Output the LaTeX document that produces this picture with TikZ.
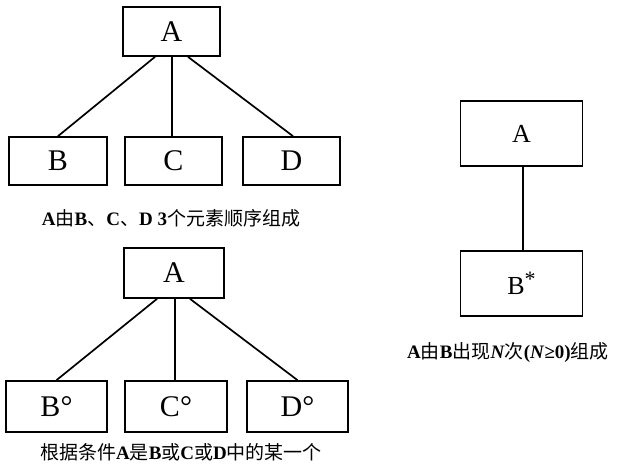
\documentclass[tikz,border=0pt]{standalone}
\usepackage{fontspec}
\setmainfont{Liberation Serif}
\newfontfamily\cjkfont{Noto Sans CJK SC}
\newcommand{\zh}[1]{{\cjkfont\mdseries #1}}
\usetikzlibrary{positioning}
\tikzset{
    treebox/.style={rectangle, draw=black, line width=1.7pt, minimum width=97pt, minimum height=49pt, inner sep=0pt, font=\fontsize{30}{30}\selectfont},
    widebox/.style={rectangle, draw=black, line width=1.7pt, minimum width=122pt, minimum height=65pt, inner sep=0pt, font=\fontsize{26}{26}\selectfont},
    link/.style={line width=1.7pt, black},
    caption/.style={font=\fontsize{19}{19}\selectfont\bfseries, inner sep=0pt}
}
\begin{document}
\begin{tikzpicture}[x=1pt, y=-1pt]
        \useasboundingbox (0,0) rectangle (621,467);

        % Sequence: A made of B, C, D
        \node[treebox] (a1) at (171.5, 31.5) {A};
        \node[treebox, minimum width=98pt, minimum height=48pt] (b1) at (58, 161) {B};
        \node[treebox, minimum height=48pt] (c1) at (173.5, 161) {C};
        \node[treebox, minimum height=48pt] (d1) at (291.5, 161) {D};
        \draw[link] ([xshift=-16.5pt]a1.south) -- (b1.north);
        \draw[link] ([xshift=0.5pt]a1.south) -- ([xshift=0.5pt]a1.south |- c1.north);
        \draw[link] ([xshift=16.5pt]a1.south) -- ([xshift=1.5pt]d1.north);
        \node[caption] (cap1) at (171, 218) {A\zh{由}B\zh{、}C\zh{、}D 3\zh{个元素顺序组成}};

        % Selection: A is one of B, C, D
        \node[treebox, minimum width=100pt, minimum height=50pt] (a2) at (174, 273) {A};
        \node[treebox, minimum width=101pt, minimum height=51pt] (b2) at (56.5, 406.5) {B°};
        \node[treebox, minimum width=102pt, minimum height=51pt] (c2) at (176, 406.5) {C°};
        \node[treebox, minimum width=101pt, minimum height=51pt] (d2) at (297.5, 406.5) {D°};
        \draw[link] ([xshift=-17pt]a2.south) -- (b2.north);
        \draw[link] ([xshift=1pt]a2.south) -- ([xshift=1pt]a2.south |- c2.north);
        \draw[link] ([xshift=16pt]a2.south) -- (d2.north);
        \node[caption] (cap2) at (181, 452) {\zh{根据条件}A\zh{是}B\zh{或}C\zh{或}D\zh{中的某一个}};

        % Iteration: A is B repeated N times
        \node[widebox] (a3) at (521.5, 133.5) {A};
        \node[widebox] (b3) at (521.5, 283.5) {B\raisebox{8pt}{\fontsize{22}{22}\selectfont*}};
        \draw[link] ([xshift=1.5pt]a3.south) -- ([xshift=1.5pt]b3.north);
        \node[caption] (cap3) at (508, 353) {A\zh{由}B\zh{出现}\textit{N}\zh{次}(\textit{N}≥0)\zh{组成}};
    \end{tikzpicture}
\end{document}
